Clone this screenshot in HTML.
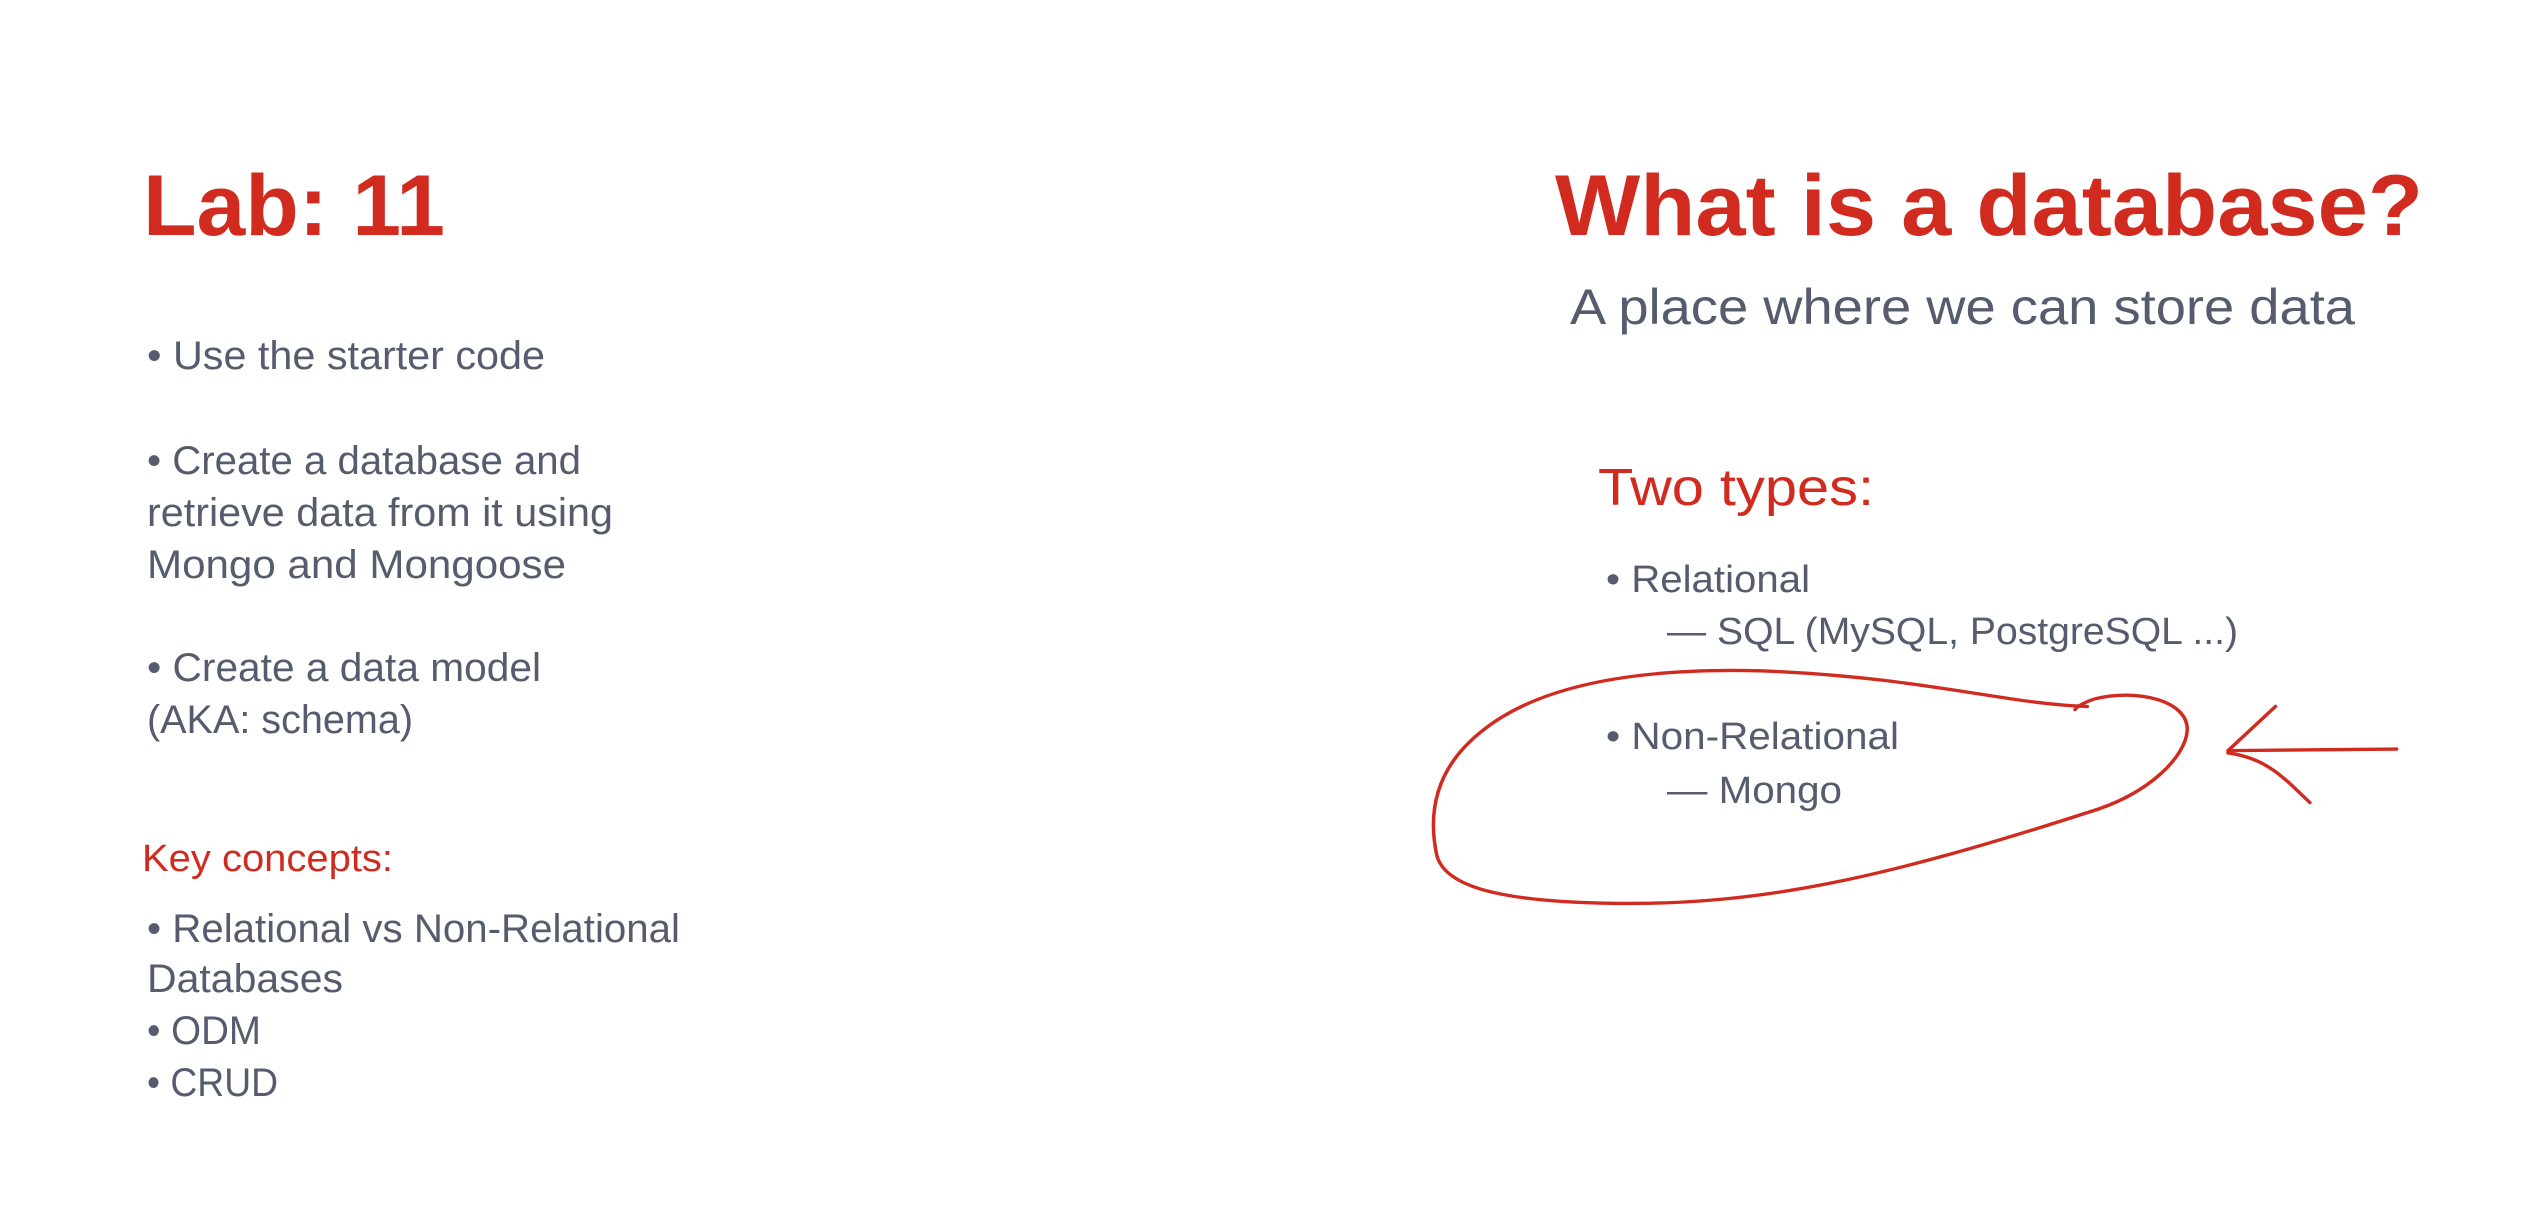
<!DOCTYPE html>
<html><head><meta charset="utf-8"><style>
html,body{margin:0;padding:0;background:#fff;width:2538px;height:1206px;overflow:hidden}
svg{display:block}
.r{fill:#d12b1f}
.g{fill:#565c6e}
text{font-family:"Liberation Sans",sans-serif}
</style></head><body>
<svg width="2538" height="1206" viewBox="0 0 2538 1206">
<text class="r" x="143" y="235" font-size="86" font-weight="bold" textLength="302" lengthAdjust="spacingAndGlyphs">Lab: 11</text>
<g class="g" font-size="40">
<text x="147" y="369" textLength="398" lengthAdjust="spacingAndGlyphs">• Use the starter code</text>
<text x="147" y="474" textLength="434" lengthAdjust="spacingAndGlyphs">• Create a database and</text>
<text x="147" y="526" textLength="466" lengthAdjust="spacingAndGlyphs">retrieve data from it using</text>
<text x="147" y="578" textLength="419" lengthAdjust="spacingAndGlyphs">Mongo and Mongoose</text>
<text x="147" y="681" textLength="394" lengthAdjust="spacingAndGlyphs">• Create a data model</text>
<text x="147" y="733" textLength="266" lengthAdjust="spacingAndGlyphs">(AKA: schema)</text>
<text x="147" y="942" textLength="533" lengthAdjust="spacingAndGlyphs">• Relational vs Non-Relational</text>
<text x="147" y="992" textLength="196" lengthAdjust="spacingAndGlyphs">Databases</text>
<text x="147" y="1044" textLength="114" lengthAdjust="spacingAndGlyphs">• ODM</text>
<text x="147" y="1096" textLength="131" lengthAdjust="spacingAndGlyphs">• CRUD</text>
</g>
<text class="r" x="142" y="871" font-size="38" textLength="251" lengthAdjust="spacingAndGlyphs">Key concepts:</text>

<text class="r" x="1555" y="235" font-size="86" font-weight="bold" textLength="868" lengthAdjust="spacingAndGlyphs">What is a database?</text>
<text class="g" x="1570" y="324" font-size="50" textLength="785" lengthAdjust="spacingAndGlyphs">A place where we can store data</text>
<text class="r" x="1598" y="505" font-size="52" textLength="276" lengthAdjust="spacingAndGlyphs">Two types:</text>
<g class="g" font-size="38">
<text x="1606" y="592" textLength="204" lengthAdjust="spacingAndGlyphs">• Relational</text>
<text x="1667" y="644" textLength="571" lengthAdjust="spacingAndGlyphs">— SQL (MySQL, PostgreSQL ...)</text>
<text x="1606" y="749" textLength="293" lengthAdjust="spacingAndGlyphs">• Non-Relational</text>
<text x="1667" y="803" textLength="175" lengthAdjust="spacingAndGlyphs">— Mongo</text>
</g>
<g transform="translate(1269,-5) scale(0.8183,0.775)" fill="none" stroke="#d12b1f" stroke-width="4.3" stroke-linecap="round" stroke-linejoin="round">
<path d="M1000,918 C900,915 800,880 600,872 C450,868 330,890 260,950 C200,1000 195,1060 205,1110 C215,1150 280,1170 420,1172 C600,1175 750,1140 1000,1055 C1080,1030 1120,980 1122,950 C1125,910 1060,895 1010,908 C995,913 988,918 985,922"/>
<path d="M1172,975 L1378,973"/>
<path d="M1172,975 L1230,918"/>
<path d="M1172,978 C1220,985 1240,1010 1272,1042"/>
</g>
</svg>
</body></html>
